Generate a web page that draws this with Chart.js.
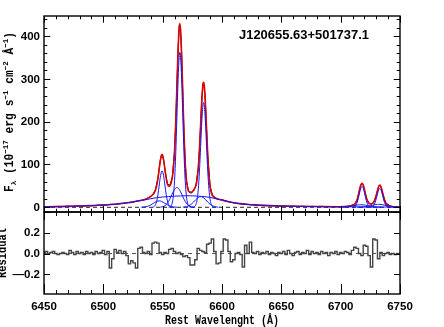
<!DOCTYPE html>
<html>
<head>
<meta charset="utf-8">
<script src="https://cdn.jsdelivr.net/npm/chart.js@4.4.1/dist/chart.umd.min.js"></script>
<style>
  html, body { margin: 0; padding: 0; background: #fff; }
  #wrap { position: relative; width: 444px; height: 327px; }
  #wrap canvas { position: absolute; left: 0; top: 0; }
</style>
</head>
<body>
<div id="wrap">
  <canvas id="spec" width="444" height="327"></canvas>
  <canvas id="resid" width="444" height="327"></canvas>
</div>
<script>
// ─── Data ────────────────────────────────────────────────────────────────────
const objName = 'J120655.63+501737.1';
const waveTicks = [6450, 6500, 6550, 6600, 6650, 6700, 6750];
const fluxTicks = [0, 100, 200, 300, 400];
const fluxTickText = ['0', '100', '200', '300', '400'];
const residTicks = [-0.2, 0.0, 0.2];
const residTickText = ['\u20140.2', '0.0', '0.2'];

// observed spectrum [wavelength, flux]
const dataSpec = [[6450,1.8],[6454,0.9],[6458,1.5],[6462,2.1],[6466,1.6],[6470,2.6],[6474,2.0],[6478,3.2],[6482,2.8],[6486,3.9],
  [6490,3.6],[6494,4.6],[6498,5.4],[6502,5.2],[6506,6.9],[6510,7.0],[6514,8.6],[6518,9.5],[6522,11.6],[6526,12.8],[6530,15.6],
  [6534,17.0],[6538,22.5],[6540,25.0],[6542,31.5],[6544,42],[6546,68],[6547,88.5],[6548,110],[6549,122],[6550,121],[6551,106],
  [6552,86],[6554,55],[6556,51],[6558,68],[6560,131],[6561,197],[6562,283],[6563,370],[6564,424],[6565,418],[6566,356],[6567,261],
  [6568,170],[6569,103],[6570,63],[6572,36],[6574,33],[6576,38],[6578,51],[6580,92],[6581,136],[6582,194],[6583,252],[6584,289],
  [6585,287],[6586,245],[6587,182],[6588,121],[6590,49],[6592,28],[6596,19],[6600,17.6],[6604,14.0],[6608,11.2],[6612,9.8],
  [6616,8.0],[6620,7.4],[6624,6.0],[6628,5.6],[6632,4.4],[6636,4.6],[6640,3.4],[6644,3.6],[6648,2.7],[6652,3.3],[6656,2.2],
  [6660,2.8],[6664,1.9],[6668,2.5],[6672,1.4],[6676,2.2],[6680,1.5],[6684,2.3],[6688,1.1],[6692,1.8],[6696,1.0],[6700,2.0],
  [6704,1.6],[6708,3.4],[6712,7.8],[6714,19],[6716,42],[6717,52.5],[6718,56.5],[6719,52],[6720,41.5],[6722,19.5],[6724,9.4],
  [6726,7.5],[6728,12.8],[6730,28.5],[6732,48.8],[6733,52],[6734,47.5],[6736,26.8],[6738,10.2],[6742,2.8],[6746,1.0],[6750,1.2]];

// total model fit
const fitTotal = [[6450,1.2],[6460,1.6],[6470,2.2],[6480,3.0],[6490,4.0],[6500,5.3],[6510,7.2],[6520,10.5],[6525,12.5],[6530,15.1],
  [6535,18.3],[6538,22],[6540,25.6],[6542,30.7],[6543,34.6],[6544,40.6],[6545,50.9],[6546,66.9],[6547,87.7],[6548,108.5],
  [6549,121.4],[6549.5,123],[6550,121],[6551,107.4],[6552,86.8],[6553,67.4],[6554,54.5],[6555,49],[6556,50],[6557,55.6],
  [6558,67.5],[6559,89.5],[6560,130.5],[6561,196.2],[6562,282.5],[6563,369.1],[6564,422.5],[6564.5,429],[6565,417.7],
  [6566,355.5],[6567,262.1],[6568,171.1],[6569,103.8],[6570,64],[6571,44.8],[6572,37],[6574,35.3],[6576,39.7],[6578,50.9],
  [6579,64.7],[6580,91.2],[6581,134.8],[6582,192.9],[6583,251.5],[6584,288.2],[6584.5,292.2],[6585,285.8],[6586,244.4],
  [6587,181.7],[6588,120.5],[6589,74.9],[6590,47.6],[6591,33.8],[6592,27.1],[6594,22.1],[6596,19.9],[6600,17],[6605,13.5],
  [6610,10.5],[6615,8.5],[6620,7],[6630,5],[6640,3.8],[6650,3],[6660,2.4],[6680,1.7],[6700,1.3],[6706,2.2],[6710,4.2],
  [6712,7.4],[6713,11.4],[6714,18.6],[6715,29.2],[6716,41.6],[6717,52.1],[6718,56.3],[6719,52.2],[6720,41.7],[6721,29.4],
  [6722,19],[6723,12.4],[6724,9],[6725,7.7],[6726,7.8],[6727,9.1],[6728,12.5],[6729,18.8],[6730,28.2],[6731,39.2],[6732,48.4],
  [6733,51.9],[6734,47.8],[6735,38],[6736,26.5],[6737,16.6],[6738,9.9],[6739,6.1],[6740,4.2],[6742,2.4],[6745,1.3],[6750,0.7]];

// fitted components
const nii6548 = [[6541.5,0.3],[6543,2.2],[6544,6.1],[6545,14.6],[6546,29.3],[6547,49.4],[6548,70],[6549,83.2],[6549.5,85],
  [6550,83.2],[6551,70],[6552,49.4],[6553,29.3],[6554,14.6],[6555,6.1],[6556,2.2],[6557.5,0.3]];
const haNarrow = [[6555,0],[6556,0.7],[6557,2.8],[6558,9.4],[6559,26.1],[6560,62.3],[6561,124.9],[6562,210.3],[6563,297.9],
  [6564,354.4],[6564.5,362],[6565,354.4],[6566,297.9],[6567,210.3],[6568,124.9],[6569,62.3],[6570,26.1],[6571,9.4],[6572,2.8],
  [6573,0.7],[6574,0]];
const nii6584 = [[6575,0],[6576,0.5],[6577,1.9],[6578,6.4],[6579,17.6],[6580,42.1],[6581,84.5],[6582,142.3],[6583,201.6],
  [6584,239.9],[6584.5,245],[6585,239.9],[6586,201.6],[6587,142.3],[6588,84.5],[6589,42.1],[6590,17.6],[6591,6.4],[6592,1.9],
  [6593,0.5],[6594,0]];
const haBroad = [[6548,0.4],[6550,1.3],[6552,3.9],[6554,9.5],[6556,18.9],[6558,31],[6560,41.7],[6562,46],[6564,41.7],[6566,31],
  [6568,18.9],[6570,9.5],[6572,3.9],[6574,1.3],[6576,0.4]];
const niiBroadR = [[6567,0.3],[6570,1.4],[6572,3.4],[6574,7],[6576,12.2],[6578,18.2],[6580,23.1],[6582,25],[6584,23.1],
  [6586,18.2],[6588,12.2],[6590,7],[6592,3.4],[6594,1.4],[6597,0.3]];
const niiBroadB = [[6532,0.2],[6535,0.8],[6537,2],[6539,4.2],[6541,7.3],[6543,10.9],[6545,13.8],[6547,15],[6549,13.8],
  [6551,10.9],[6553,7.3],[6555,4.2],[6557,2],[6559,0.8],[6562,0.2]];
const haWide = [[6450,1.2],[6460,1.6],[6470,2.2],[6480,3],[6490,4],[6500,5.3],[6510,7.2],[6520,10.5],[6525,12.5],[6530,15],
  [6535,17.5],[6540,20],[6545,22.5],[6550,24],[6555,25],[6560,26],[6565,26.5],[6570,27],[6575,26.8],[6580,26],[6585,25],
  [6590,23],[6595,20],[6600,17],[6605,13.5],[6610,10.5],[6615,8.5],[6620,7],[6630,5],[6640,3.8],[6650,3],[6660,2.4],
  [6680,1.7],[6700,1.2],[6720,0.9],[6750,0.6]];
const sii6716 = [[6710,0.2],[6711,0.7],[6712,2.2],[6713,5.6],[6714,12.2],[6715,22.4],[6716,34.6],[6717,44.9],[6718,49],
  [6719,44.9],[6720,34.6],[6721,22.4],[6722,12.2],[6723,5.6],[6724,2.2],[6725,0.7],[6726,0.2]];
const sii6731 = [[6725,0.2],[6726,0.6],[6727,1.9],[6728,5],[6729,11],[6730,20.2],[6731,31.1],[6732,40.3],[6733,44],
  [6734,40.3],[6735,31.1],[6736,20.2],[6737,11],[6738,5],[6739,1.9],[6740,0.6],[6741,0.2]];
const siiBroadB = [[6700,0.1],[6704,0.6],[6707,1.5],[6710,3.0],[6713,4.8],[6715,5.7],[6717,6],[6719,5.7],[6721,4.8],
  [6724,3.0],[6727,1.5],[6730,0.6],[6734,0.1]];
const siiBroadR = [[6714,0.1],[6718,0.5],[6721,1.3],[6724,2.9],[6727,4.9],[6729,6.2],[6731,6.9],[6732,7],[6733,6.9],
  [6735,6.2],[6737,4.9],[6740,2.9],[6743,1.3],[6746,0.5],[6750,0.1]];

// residuals, 2 A bins starting at 6450
const residStart = 6450, residStep = 2;
const residVals = [
  0.01, 0.02, 0.00, 0.01, 0.02, 0.00,-0.01, 0.00, 0.01, 0.00,
 -0.01, 0.03, 0.01,-0.01, 0.02, 0.00, 0.01,-0.01, 0.02, 0.00,
  0.01,-0.01, 0.02, 0.00, 0.01, 0.03,-0.01, 0.02,-0.14,-0.05,
  0.04, 0.01, 0.03, 0.00, 0.02,-0.02,-0.10,-0.07,-0.09,-0.14,
  0.05, 0.06, 0.01, 0.00, 0.02,-0.01, 0.10, 0.11, 0.10, 0.01,
 -0.01, 0.01, 0.00, 0.04, 0.05, 0.02, 0.00, 0.01,-0.01,-0.03,
 -0.02,-0.04,-0.11,-0.11,-0.06, 0.05, 0.03, 0.02, 0.01, 0.09,
  0.10, 0.14, 0.02,-0.10,-0.09, 0.02, 0.14, 0.13, 0.02,-0.08,
 -0.06, 0.00, 0.01,-0.01,-0.13, 0.08, 0.00, 0.11, 0.01, 0.00,
  0.02,-0.01, 0.01, 0.00, 0.02,-0.01, 0.01, 0.00,-0.02, 0.01,
  0.00, 0.02,-0.01, 0.03, 0.00,-0.02, 0.01, 0.02,-0.01, 0.01,
  0.00, 0.03,-0.01, 0.02, 0.00, 0.01,-0.01, 0.02, 0.00, 0.01,
 -0.02, 0.01, 0.00, 0.02,-0.01, 0.01, 0.00, 0.02, 0.01,-0.01,
  0.03, 0.06, 0.05, 0.00,-0.02, 0.08, 0.07,-0.02,-0.13, 0.14,
  0.13,-0.05, 0.01,-0.02, 0.00, 0.01,-0.01, 0.00,-0.01, 0.00,
  0.00];

// ─── Helpers ────────────────────────────────────────────────────────────────
const pts = arr => arr.map(([x, y]) => ({ x, y }));
const residPts = residVals.map((y, i) => ({ x: residStart + i * residStep, y }));

function tickMarks(lo, hi, step) {
  const out = [];
  for (let v = Math.ceil(lo / step - 1e-9) * step; v <= hi + 1e-9; v += step) out.push(+v.toFixed(6));
  return out;
}
const isMajor = (v, major) => Math.abs(v / major - Math.round(v / major)) < 1e-6;

// text with sub/superscripts, squeezed to a given width
function drawRich(ctx, parts, width) {
  let w = 0;
  parts.forEach(p => { ctx.font = `bold ${p.s}px ${p.f}`; p.w = ctx.measureText(p.t).width; w += p.w; });
  ctx.scale(width / w, 1);
  let x = -w / 2;
  parts.forEach(p => { ctx.font = `bold ${p.s}px ${p.f}`; ctx.fillText(p.t, x, p.dy || 0); x += p.w; });
}

// IDL style box: inward ticks on all four sides, numbers outside
const framePlugin = {
  id: 'frame',
  afterDraw(chart, args, o) {
    const { ctx, chartArea: a } = chart;
    const xs = chart.scales.x, ys = chart.scales.y;
    ctx.save();
    ctx.strokeStyle = '#000';
    ctx.lineWidth = 1;
    ctx.beginPath();
    tickMarks(xs.min, xs.max, o.xMinor).forEach(v => {
      const px = Math.round(xs.getPixelForValue(v)) + 0.5;
      const big = isMajor(v, o.xMajor);
      ctx.moveTo(px, a.bottom); ctx.lineTo(px, a.bottom - o.xTickBottom[big ? 0 : 1]);
      ctx.moveTo(px, a.top); ctx.lineTo(px, a.top + o.xTickTop[big ? 0 : 1]);
    });
    tickMarks(ys.min, ys.max, o.yMinor).forEach(v => {
      const py = Math.round(ys.getPixelForValue(v)) + 0.5;
      const len = o.yTick[isMajor(v, o.yMajor) ? 0 : 1];
      ctx.moveTo(a.left, py); ctx.lineTo(a.left + len, py);
      ctx.moveTo(a.right, py); ctx.lineTo(a.right - len, py);
    });
    ctx.stroke();
    ctx.lineWidth = 1.4;
    ctx.strokeRect(a.left, a.top, a.right - a.left, a.bottom - a.top);

    ctx.fillStyle = '#000';
    ctx.font = 'bold 11.5px "Liberation Sans", Arial, sans-serif';
    ctx.textAlign = 'right';
    ctx.textBaseline = 'middle';
    o.yValues.forEach((v, i) => ctx.fillText(o.yText[i], a.left - 4, ys.getPixelForValue(v) + 0.5));
    if (o.xValues) {
      ctx.textAlign = 'center';
      o.xValues.forEach(v => ctx.fillText(String(v), xs.getPixelForValue(v), a.bottom + 13));
    }
    ctx.restore();
  }
};

const common = {
  type: 'line',
  responsive: false,
  animation: false,
  devicePixelRatio: 1,
  elements: { point: { radius: 0 }, line: { borderWidth: 1, fill: false } },
};

const blue = '#1414ff';
const comp = (arr) => ({ data: pts(arr), borderColor: blue, borderWidth: 1, cubicInterpolationMode: 'monotone', order: 0 });

// ─── Top panel: spectrum + fit ──────────────────────────────────────────────
new Chart(document.getElementById('spec'), {
  type: 'line',
  data: {
    datasets: [
      comp(haNarrow), comp(nii6584), comp(nii6548), comp(haBroad), comp(niiBroadR), comp(niiBroadB), comp(haWide),
      comp(sii6716), comp(sii6731), comp(siiBroadB), comp(siiBroadR),
      { data: pts(fitTotal), borderColor: '#e00000', borderWidth: 1.6, cubicInterpolationMode: 'monotone', order: 1 },
      { data: pts(dataSpec), borderColor: '#000', borderWidth: 1, order: 2 },
      { data: [{ x: 6450, y: 0 }, { x: 6750, y: 0 }], borderColor: '#222', borderWidth: 1, borderDash: [4, 3], order: 3 },
    ]
  },
  options: {
    ...common,
    layout: { padding: { left: 44, right: 44, top: 16, bottom: 115 } },
    scales: {
      x: { type: 'linear', min: 6450, max: 6750, display: false },
      y: { type: 'linear', min: -11, max: 447, display: false },
    },
    plugins: {
      legend: { display: false },
      tooltip: { enabled: false },
      frame: { xMajor: 50, xMinor: 10, yMajor: 100, yMinor: 20, xTickBottom: [6, 3.3], xTickTop: [6.7, 3.3],
               yTick: [6.3, 3.3], yValues: fluxTicks, yText: fluxTickText, xValues: null },
    }
  },
  plugins: [framePlugin, {
    id: 'specText',
    afterDraw(chart) {
      const ctx = chart.ctx;
      ctx.save();
      ctx.fillStyle = '#000';
      ctx.textBaseline = 'alphabetic';
      ctx.font = 'bold 13px "Liberation Sans", Arial, sans-serif';
      ctx.translate(239, 39);
      const w = ctx.measureText(objName).width;
      ctx.scale(130 / w, 1);
      ctx.fillText(objName, 0, 0);
      ctx.restore();

      ctx.save();
      ctx.fillStyle = '#000';
      ctx.textBaseline = 'alphabetic';
      ctx.translate(13, 112);
      ctx.rotate(-Math.PI / 2);
      const mono = '"Liberation Mono", monospace';
      drawRich(ctx, [
        { t: 'F', s: 12, f: mono }, { t: '\u03bb', s: 8, f: mono, dy: 3 },
        { t: ' (10', s: 12, f: mono }, { t: '\u221217', s: 8, f: mono, dy: -5 },
        { t: ' erg s', s: 12, f: mono }, { t: '\u22121', s: 8, f: mono, dy: -5 },
        { t: ' cm', s: 12, f: mono }, { t: '\u22122', s: 8, f: mono, dy: -5 },
        { t: ' \u00c5', s: 12, f: mono }, { t: '\u22121', s: 8, f: mono, dy: -5 },
        { t: ')', s: 12, f: mono },
      ], 160);
      ctx.restore();
    }
  }]
});

// ─── Bottom panel: residuals ────────────────────────────────────────────────
new Chart(document.getElementById('resid'), {
  type: 'line',
  data: {
    datasets: [
      { data: residPts, borderColor: '#444', borderWidth: 1.4, stepped: 'middle', order: 0 },
      { data: [{ x: 6450, y: 0 }, { x: 6750, y: 0 }], borderColor: '#555', borderWidth: 1, borderDash: [4, 4], order: 1 },
    ]
  },
  options: {
    ...common,
    layout: { padding: { left: 44, right: 44, top: 212, bottom: 33 } },
    scales: {
      x: { type: 'linear', min: 6450, max: 6750, display: false },
      y: { type: 'linear', min: -0.39, max: 0.40, display: false },
    },
    plugins: {
      legend: { display: false },
      tooltip: { enabled: false },
      frame: { xMajor: 50, xMinor: 10, yMajor: 0.2, yMinor: 0.2, xTickBottom: [10, 4], xTickTop: [8, 4],
               yTick: [6, 6], yValues: residTicks, yText: residTickText, xValues: waveTicks },
    }
  },
  plugins: [framePlugin, {
    id: 'residText',
    afterDraw(chart) {
      const ctx = chart.ctx;
      ctx.save();
      ctx.fillStyle = '#000';
      ctx.textBaseline = 'alphabetic';
      ctx.textAlign = 'center';
      ctx.font = 'bold 12px "Liberation Mono", monospace';
      ctx.translate(222, 324);
      ctx.scale(114 / ctx.measureText('Rest Wavelenght (\u00c5)').width, 1);
      ctx.fillText('Rest Wavelenght (\u00c5)', 0, 0);
      ctx.restore();

      ctx.save();
      ctx.fillStyle = '#000';
      ctx.textBaseline = 'alphabetic';
      ctx.textAlign = 'center';
      ctx.font = 'bold 12px "Liberation Mono", monospace';
      ctx.translate(5.5, 253);
      ctx.rotate(-Math.PI / 2);
      ctx.scale(50 / ctx.measureText('Residual').width, 1);
      ctx.fillText('Residual', 0, 0);
      ctx.restore();
    }
  }]
});
</script>
</body>
</html>
